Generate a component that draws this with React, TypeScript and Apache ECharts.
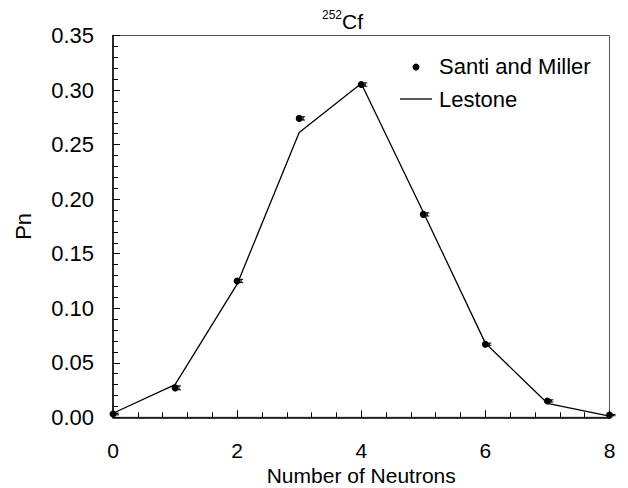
import React, { useEffect, useRef } from "react";
import * as echarts from "echarts";

const neutrons = [0, 1, 2, 3, 4, 5, 6, 7, 8];
const santiMiller = [0.003, 0.027, 0.125, 0.274, 0.305, 0.186, 0.067, 0.015, 0.002];
const santiMillerErr = [0.0008, 0.0018, 0.0015, 0.0015, 0.0015, 0.0015, 0.001, 0.001, 0.0006];
const lestone = [0.0037, 0.030, 0.122, 0.261, 0.306, 0.188, 0.068, 0.0128, 0.001];
const xTicks = { min: 0, max: 8, interval: 2 };
const yTicks = { min: 0, max: 0.35, interval: 0.05 };
const seriesNames = ["Santi and Miller", "Lestone"];

const FONT = "Liberation Sans, Arial, sans-serif";

export default function App() {
  const ref = useRef<HTMLDivElement>(null);
  useEffect(() => {
    if (!ref.current) return;
    const chart = echarts.init(ref.current, undefined, { renderer: "svg" });
    const pts = neutrons.map((n, i) => [n, santiMiller[i]]);
    const errData = neutrons.map((n, i) => [n, santiMiller[i], santiMillerErr[i]]);
    const lineData = neutrons.map((n, i) => [n, lestone[i]]);
    chart.setOption({
      animation: false,
      backgroundColor: "#ffffff",
      textStyle: { fontFamily: FONT, color: "#000" },
      title: {
        text: "{sup|252}{main|Cf}",
        left: 317,
        top: 4,
        textStyle: {
          fontWeight: "normal",
          rich: {
            sup: { fontFamily: FONT, fontSize: 12, fontWeight: "normal", color: "#000", verticalAlign: "top", lineHeight: 12 },
            main: { fontFamily: FONT, fontSize: 21, fontWeight: "normal", color: "#000", lineHeight: 24 },
          },
        },
      },
      graphic: [
        { type: "circle", shape: { cx: 416, cy: 67, r: 3.5 }, style: { fill: "#000" } },
        {
          type: "text",
          x: 439,
          y: 66,
          style: { text: seriesNames[0], fontFamily: FONT, fontSize: 22, fill: "#000", verticalAlign: "middle", align: "left" },
        },
        { type: "line", shape: { x1: 400, y1: 99, x2: 432, y2: 99 }, style: { stroke: "#000", lineWidth: 1.3 } },
        {
          type: "text",
          x: 439,
          y: 99,
          style: { text: seriesNames[1], fontFamily: FONT, fontSize: 22, fill: "#000", verticalAlign: "middle", align: "left" },
        },
      ],
      grid: {
        left: 113,
        top: 35.5,
        right: 18.5,
        bottom: 70.7,
        show: true,
        borderColor: "#555",
        borderWidth: 1,
        outerBoundsMode: "none",
        containLabel: false,
      },
      xAxis: {
        type: "value",
        min: xTicks.min,
        max: xTicks.max,
        interval: xTicks.interval,
        name: "Number of Neutrons",
        nameLocation: "middle",
        nameGap: 50,
        nameMoveOverlap: false,
        nameTextStyle: { fontFamily: FONT, fontSize: 21, color: "#000", lineHeight: 16 },
        axisLine: { show: true, onZero: false, lineStyle: { color: "#000", width: 1.5 } },
        axisTick: { show: true, inside: true, length: 7, lineStyle: { color: "#000", width: 1 } },
        minorTick: { show: true, splitNumber: 5, length: 5, lineStyle: { color: "#000", width: 1 } },
        axisLabel: { fontFamily: FONT, fontSize: 21, color: "#000", margin: 25, lineHeight: 16 },
        splitLine: { show: false },
      },
      yAxis: {
        type: "value",
        min: yTicks.min,
        max: yTicks.max,
        interval: yTicks.interval,
        name: "Pn",
        nameLocation: "middle",
        nameGap: 79,
        nameMoveOverlap: false,
        nameTextStyle: { fontFamily: FONT, fontSize: 22, color: "#000" },
        axisLine: { show: true, onZero: false, lineStyle: { color: "#000", width: 1.5 } },
        axisTick: { show: true, inside: true, length: 7, lineStyle: { color: "#000", width: 1 } },
        minorTick: { show: true, splitNumber: 5, length: 5, lineStyle: { color: "#000", width: 1 } },
        axisLabel: {
          fontFamily: FONT,
          fontSize: 22,
          color: "#000",
          margin: 19,
          formatter: (v: number) => v.toFixed(2),
        },
        splitLine: { show: false },
      },
      series: [
        {
          name: seriesNames[1],
          type: "line",
          data: lineData,
          symbol: "none",
          lineStyle: { color: "#000", width: 1.3 },
          itemStyle: { color: "#000" },
          z: 2,
        },
        {
          name: seriesNames[0],
          type: "scatter",
          data: pts,
          symbol: "circle",
          symbolSize: 7,
          itemStyle: { color: "#000", opacity: 1 },
          z: 3,
        },
        {
          name: "err",
          type: "custom",
          data: errData,
          z: 4,
          renderItem: (params: any, api: any) => {
            const x = api.value(0);
            const y = api.value(1);
            const e = api.value(2);
            const top = api.coord([x, y + e]);
            const bot = api.coord([x, y - e]);
            const cx = top[0] + 4;
            return {
              type: "group",
              children: [
                { type: "line", shape: { x1: cx, y1: top[1], x2: cx, y2: bot[1] }, style: { stroke: "#000", lineWidth: 1 } },
                { type: "line", shape: { x1: cx - 2, y1: top[1], x2: cx + 2, y2: top[1] }, style: { stroke: "#000", lineWidth: 1 } },
                { type: "line", shape: { x1: cx - 2, y1: bot[1], x2: cx + 2, y2: bot[1] }, style: { stroke: "#000", lineWidth: 1 } },
              ],
            };
          },
        },
      ],
    });
    return () => chart.dispose();
  }, []);
  return <div ref={ref} style={{ width: 628, height: 488, position: "absolute", left: 0, top: 0 }} />;
}
